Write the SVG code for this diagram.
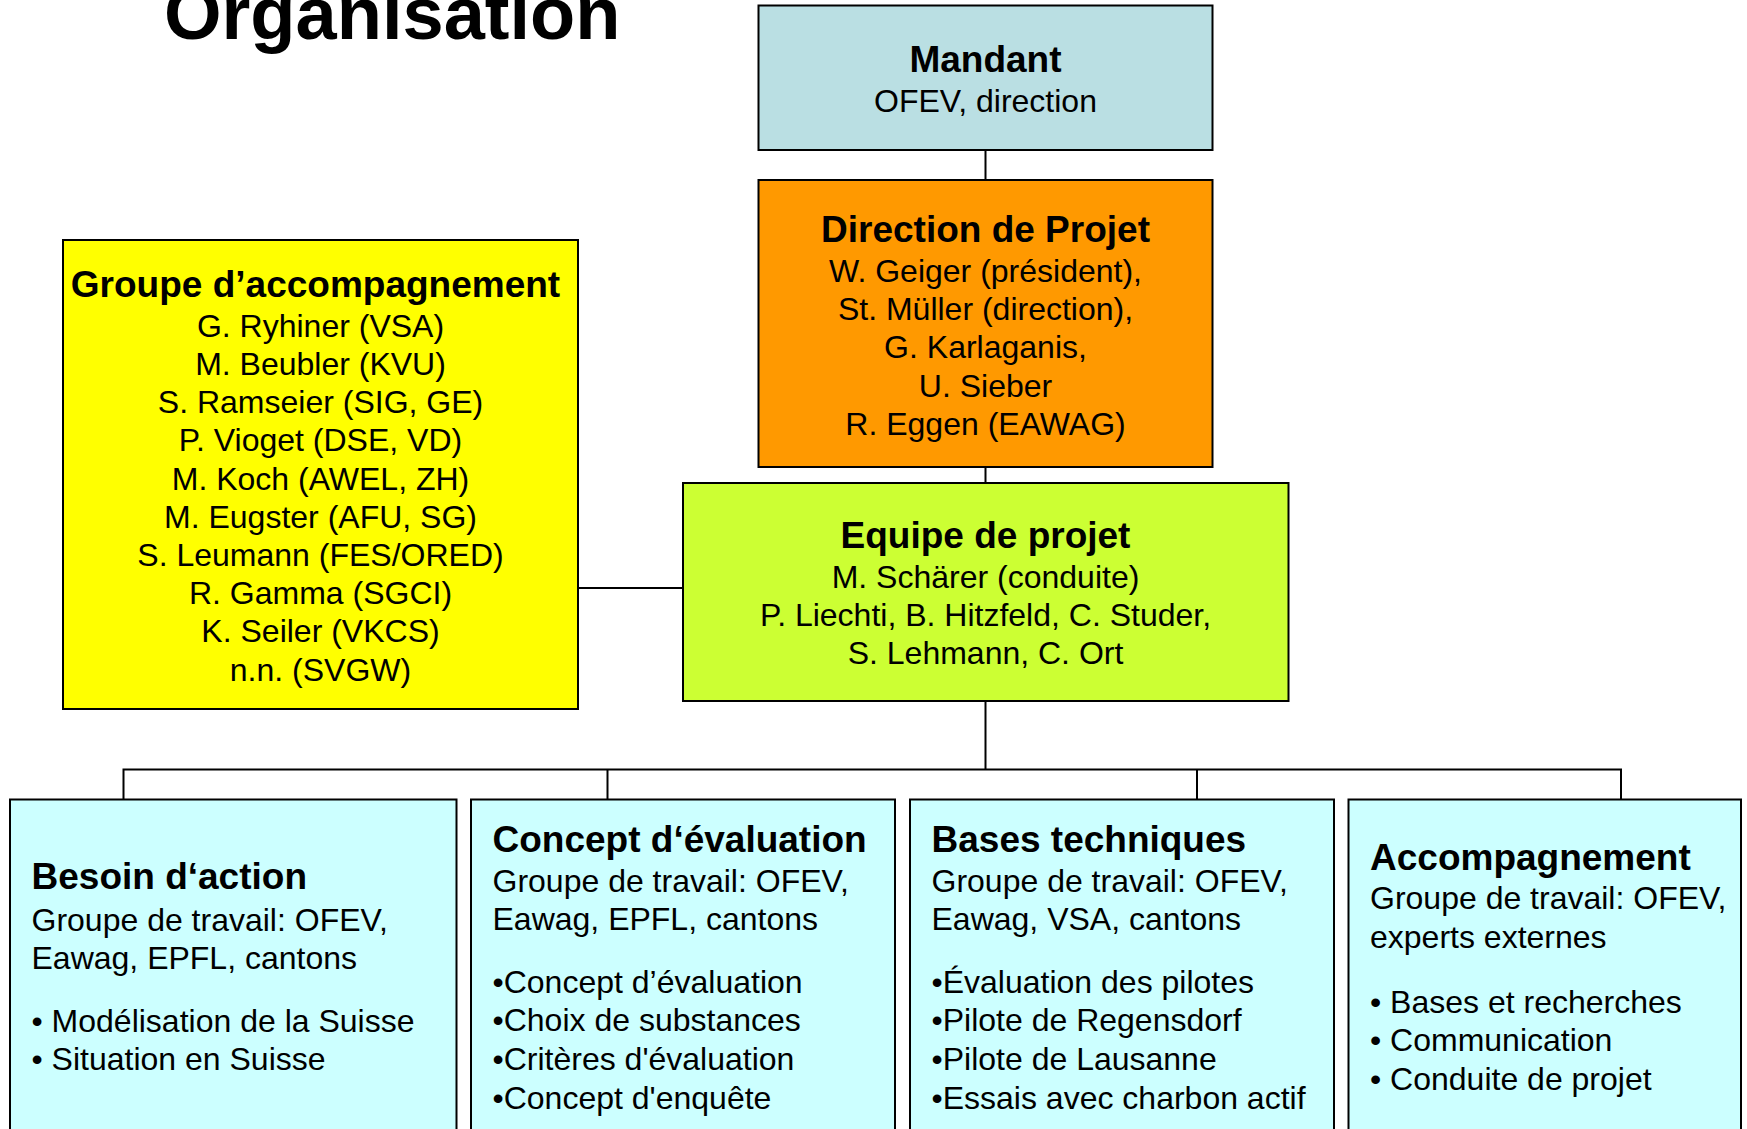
<svg xmlns="http://www.w3.org/2000/svg" width="1747" height="1129" viewBox="0 0 1747 1129">
<style>
.box{stroke:#000;stroke-width:2}
.con{stroke:#000;stroke-width:2;fill:none}
text{font-family:"Liberation Sans",Arial,sans-serif;fill:#000}
.b{font-weight:bold;font-size:37px}
.r{font-size:32px}
.c{text-anchor:middle}
</style>
<rect width="1747" height="1129" fill="#fff"/>
<text id="title" x="164" y="39" style="font-weight:bold;font-size:74px">Organisation</text>
<g id="connectors">
<line class="con" x1="985.5" y1="150" x2="985.5" y2="180"/>
<line class="con" x1="985.5" y1="467" x2="985.5" y2="483"/>
<line class="con" x1="578" y1="588" x2="683" y2="588"/>
<line class="con" x1="985.5" y1="701" x2="985.5" y2="769.5"/>
<polyline class="con" points="123.5,799.5 123.5,769.5 1621,769.5 1621,799.5"/>
<line class="con" x1="607.5" y1="769.5" x2="607.5" y2="799.5"/>
<line class="con" x1="1197" y1="769.5" x2="1197" y2="799.5"/>
</g>
<g id="mandant">
<rect class="box" x="758.5" y="5.5" width="454" height="144.5" fill="#BADFE3"/>
<text class="b c" x="985.5" y="71.5">Mandant</text>
<text class="r c" x="985.5" y="111.5">OFEV, direction</text>
</g>
<g id="direction">
<rect class="box" x="758.5" y="180" width="454" height="287" fill="#FF9900"/>
<text class="b c" x="985.5" y="241.5">Direction de Projet</text>
<text class="r c" x="985.5" y="281.5">W. Geiger (président),</text>
<text class="r c" x="985.5" y="320">St. Müller (direction),</text>
<text class="r c" x="985.5" y="358.3">G. Karlaganis,</text>
<text class="r c" x="985.5" y="396.6">U. Sieber</text>
<text class="r c" x="985.5" y="435">R. Eggen (EAWAG)</text>
</g>
<g id="groupe">
<rect class="box" x="63" y="240" width="515" height="469" fill="#FFFF00"/>
<text class="b c" x="315.5" y="297">Groupe d’accompagnement</text>
<text class="r c" x="320.5" y="336.7">G. Ryhiner (VSA)</text>
<text class="r c" x="320.5" y="374.9">M. Beubler (KVU)</text>
<text class="r c" x="320.5" y="413.1">S. Ramseier (SIG, GE)</text>
<text class="r c" x="320.5" y="451.3">P. Vioget (DSE, VD)</text>
<text class="r c" x="320.5" y="489.5">M. Koch (AWEL, ZH)</text>
<text class="r c" x="320.5" y="527.7">M. Eugster (AFU, SG)</text>
<text class="r c" x="320.5" y="565.9">S. Leumann (FES/ORED)</text>
<text class="r c" x="320.5" y="604.1">R. Gamma (SGCI)</text>
<text class="r c" x="320.5" y="642.3">K. Seiler (VKCS)</text>
<text class="r c" x="320.5" y="680.5">n.n. (SVGW)</text>
</g>
<g id="equipe">
<rect class="box" x="683" y="483" width="605.5" height="218" fill="#CCFF33"/>
<text class="b c" x="985.5" y="548.3">Equipe de projet</text>
<text class="r c" x="985.5" y="588.3">M. Schärer (conduite)</text>
<text class="r c" x="985.5" y="626.3">P. Liechti, B. Hitzfeld, C. Studer,</text>
<text class="r c" x="985.5" y="664.3">S. Lehmann, C. Ort</text>
</g>
<g id="besoin">
<rect class="box" x="10" y="799.5" width="446.5" height="345" fill="#CCFFFF"/>
<text class="b" x="31.5" y="889.3">Besoin d‘action</text>
<text class="r" x="31.5" y="930.5">Groupe de travail: OFEV,</text>
<text class="r" x="31.5" y="968.7">Eawag, EPFL, cantons</text>
<text class="r" x="31.5" y="1031.8">• Modélisation de la Suisse</text>
<text class="r" x="31.5" y="1070.4">• Situation en Suisse</text>
</g>
<g id="concept">
<rect class="box" x="471" y="799.5" width="424" height="345" fill="#CCFFFF"/>
<text class="b" x="492.5" y="851.5">Concept d‘évaluation</text>
<text class="r" x="492.5" y="891.5">Groupe de travail: OFEV,</text>
<text class="r" x="492.5" y="929.7">Eawag, EPFL, cantons</text>
<text class="r" x="492.5" y="992.8">•Concept d’évaluation</text>
<text class="r" x="492.5" y="1031.4">•Choix de substances</text>
<text class="r" x="492.5" y="1070">•Critères d'évaluation</text>
<text class="r" x="492.5" y="1108.6">•Concept d'enquête</text>
</g>
<g id="bases">
<rect class="box" x="910" y="799.5" width="424" height="345" fill="#CCFFFF"/>
<text class="b" x="931.5" y="851.5">Bases techniques</text>
<text class="r" x="931.5" y="891.5">Groupe de travail: OFEV,</text>
<text class="r" x="931.5" y="929.7">Eawag, VSA, cantons</text>
<text class="r" x="931.5" y="992.8">•Évaluation des pilotes</text>
<text class="r" x="931.5" y="1031.4">•Pilote de Regensdorf</text>
<text class="r" x="931.5" y="1070">•Pilote de Lausanne</text>
<text class="r" x="931.5" y="1108.6">•Essais avec charbon actif</text>
</g>
<g id="accompagnement">
<rect class="box" x="1348.5" y="799.5" width="392.5" height="345" fill="#CCFFFF"/>
<text class="b" x="1370" y="870">Accompagnement</text>
<text class="r" x="1370" y="909.3">Groupe de travail: OFEV,</text>
<text class="r" x="1370" y="947.5">experts externes</text>
<text class="r" x="1370" y="1012.6">• Bases et recherches</text>
<text class="r" x="1370" y="1051.2">• Communication</text>
<text class="r" x="1370" y="1089.8">• Conduite de projet</text>
</g>
</svg>
